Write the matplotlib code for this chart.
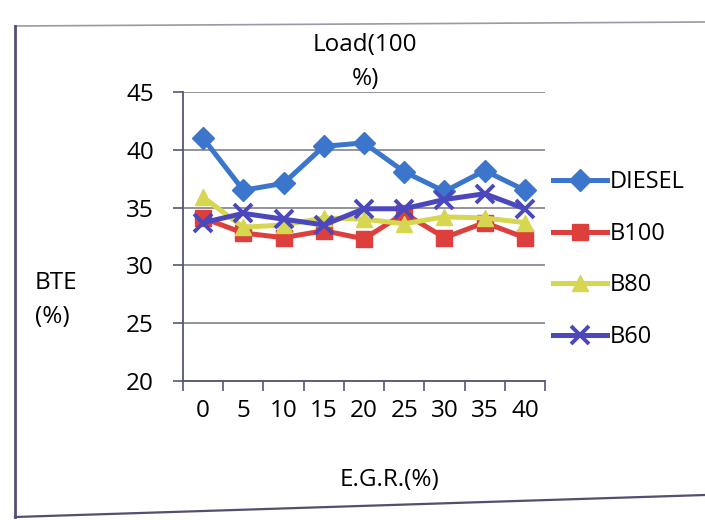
import matplotlib.pyplot as plt
from matplotlib.lines import Line2D

plt.rcParams['font.family'] = ['Open Sans', 'DejaVu Sans']

# --- Data -------------------------------------------------------------------------------------------------------------
egr = ['0', '5', '10', '15', '20', '25', '30', '35', '40']
diesel = [41.0, 36.5, 37.1, 40.3, 40.6, 38.1, 36.4, 38.2, 36.5]
b100 = [34.1, 32.8, 32.4, 33.0, 32.3, 34.5, 32.4, 33.7, 32.4]
b80 = [35.9, 33.3, 33.5, 34.1, 34.0, 33.6, 34.2, 34.1, 33.7]
b60 = [33.7, 34.5, 34.0, 33.5, 34.9, 34.9, 35.7, 36.2, 34.9]

# --- Plot -------------------------------------------------------------------------------------------------------------
fig = plt.figure(figsize=(7.05, 5.2), dpi=100)
ax = fig.add_axes([183 / 705, 1 - 381 / 520, 362 / 705, 289 / 520])

x = range(len(egr))
ax.plot(x, diesel, color='#3b76cc', lw=3.6, marker='D', ms=11, label='DIESEL')
ax.plot(x, b100, color='#dc3f3c', lw=3.6, marker='s', ms=12, label='B100')
ax.plot(x, b80, color='#d6d650', lw=3.6, marker='^', ms=12, label='B80')
ax.plot(x, b60, color='#4a48bc', lw=3.6, marker='x', ms=13, mew=2.8, label='B60')

ax.set_xlim(-0.5, len(egr) - 0.5)
ax.set_ylim(20, 45)
ax.set_yticks([20, 25, 30, 35, 40, 45])
ax.set_xticks(list(x))
ax.set_xticklabels(egr)
ax.set_xticks([i - 0.5 for i in range(len(egr) + 1)], minor=True)
ax.tick_params(axis='x', which='major', length=0, pad=13, labelsize=17.5)
ax.tick_params(axis='x', which='minor', length=7, direction='out', color='#555577', width=1.2)
ax.tick_params(axis='y', length=7, direction='out', color='#555577', width=1.2, pad=14, labelsize=17.5)

ax.grid(axis='y', color='#8a8a96', lw=1.3)
ax.set_axisbelow(True)
for side in ['top', 'right']:
    ax.spines[side].set_visible(False)
for side in ['left', 'bottom']:
    ax.spines[side].set_color('#555577')
    ax.spines[side].set_linewidth(1.3)

fig.text(365 / 705, 1 - 62 / 520, 'Load(100\n%)', ha='center', va='center', fontsize=17.5, linespacing=1.55)
fig.text(35 / 705, 1 - 300 / 520, 'BTE\n(%)', ha='left', va='center', fontsize=17.5, linespacing=1.55)
fig.text(390 / 705, 1 - 480 / 520, 'E.G.R.(%)', ha='center', va='center', fontsize=17.5)

ax.legend(loc='upper left', bbox_to_anchor=(0.995, 0.762), frameon=False, fontsize=17,
          handlelength=2.3, labelspacing=1.17, handletextpad=0.12, borderaxespad=0)

# outer chart frame
fig.lines.append(Line2D([15 / 705, 1], [1 - 26 / 520, 1 - 22 / 520], color='#9a9aa4', lw=1.2,
                        transform=fig.transFigure))
fig.lines.append(Line2D([15 / 705, 15 / 705], [1 - 26 / 520, 1 - 517 / 520], color='#505070', lw=2,
                        transform=fig.transFigure))
fig.lines.append(Line2D([15 / 705, 1], [1 - 517 / 520, 1 - 495 / 520], color='#505070', lw=1.6,
                        transform=fig.transFigure))

fig.savefig('out.png', dpi=100)
